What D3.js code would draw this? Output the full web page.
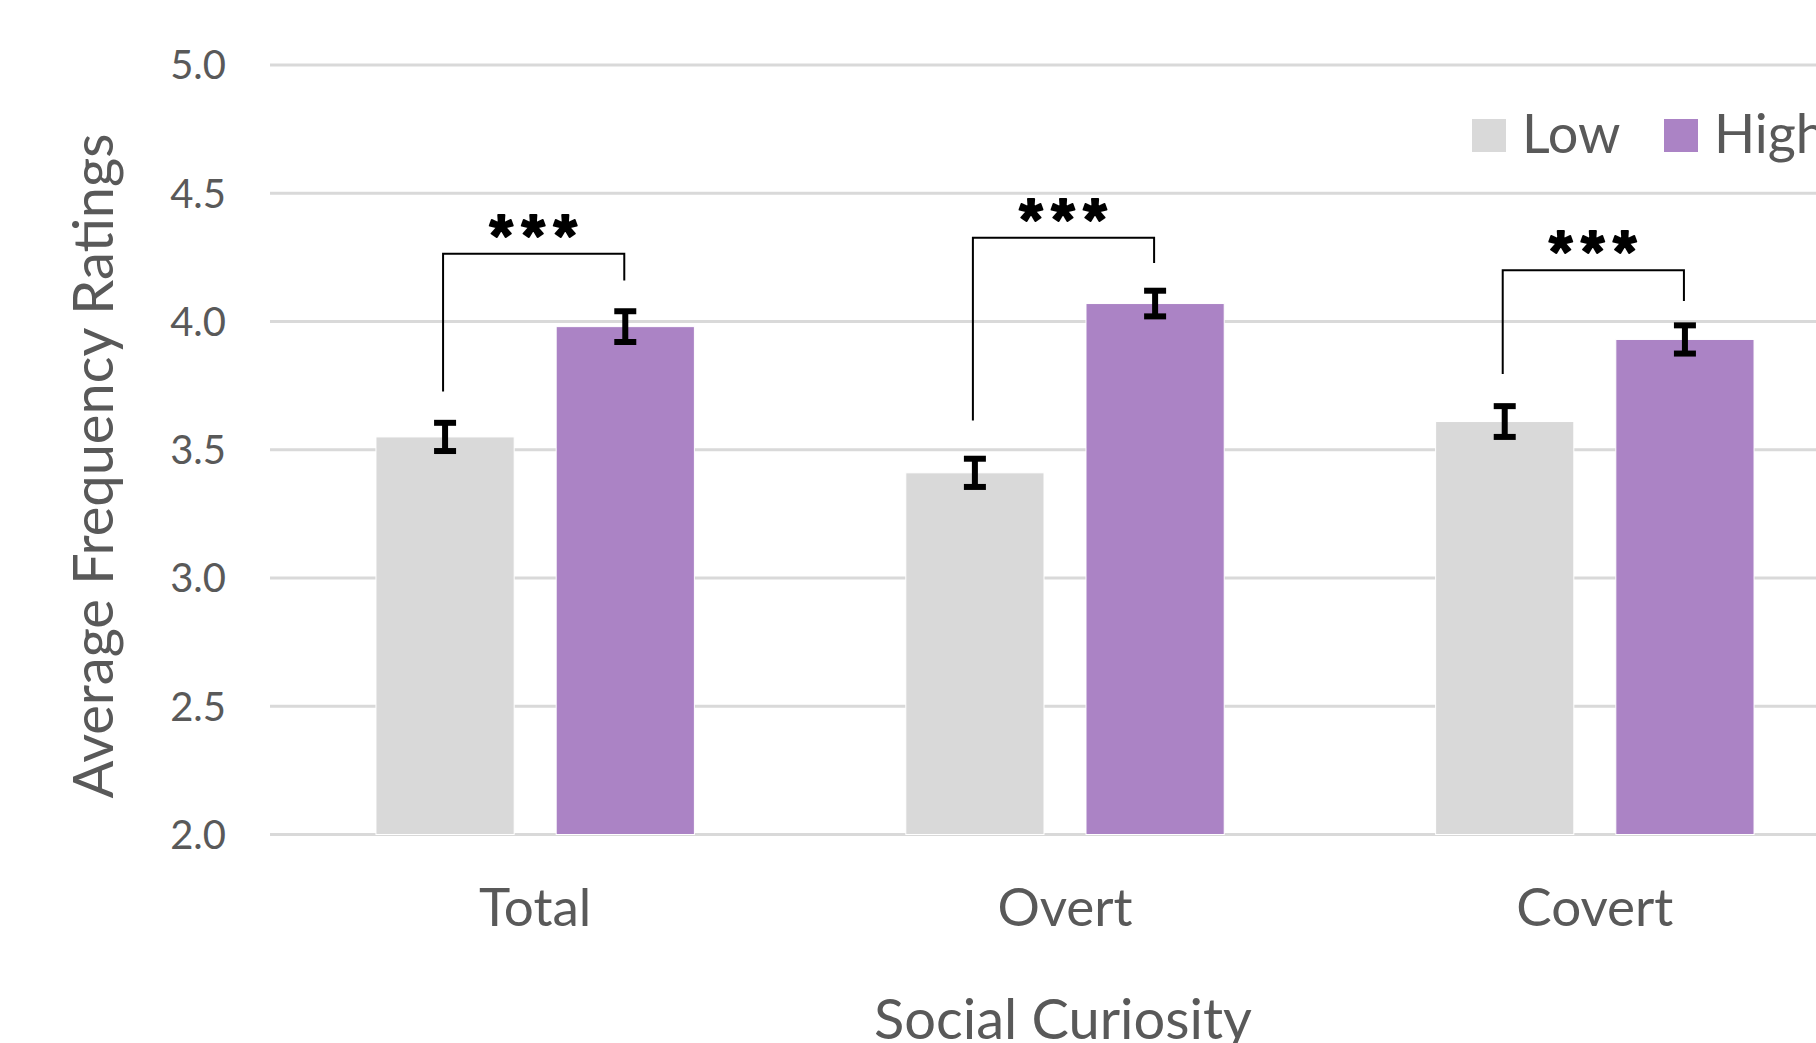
<!DOCTYPE html>
<html>
<head>
<meta charset="utf-8">
<script src="https://cdn.jsdelivr.net/npm/d3@7"></script>
<style>
  html, body { margin: 0; padding: 0; background: #ffffff; }
  svg { display: block; }
  text { font-family: Lato, "Open Sans", sans-serif; fill: #595959; }
</style>
</head>
<body>
<svg id="chart" width="1816" height="1043"></svg>
<script>
// Social curiosity groups and the two rating levels
const categories = ["Total", "Overt", "Covert"];
const seriesNames = ["Low", "High"];

// Mean frequency ratings per group
const lowValues  = [3.55, 3.41, 3.61];
const highValues = [3.98, 4.07, 3.93];

// Standard errors
const lowErrors  = [0.055, 0.055, 0.06];
const highErrors = [0.06, 0.05, 0.055];

// Y axis ticks
const yTicks = [2.0, 2.5, 3.0, 3.5, 4.0, 4.5, 5.0];

// Significance brackets (in rating units): bar top of bracket, and where each leg ends
const bracketTop     = [4.264, 4.327, 4.200];
const bracketLowEnd  = [3.727, 3.614, 3.795];
const bracketHighEnd = [4.160, 4.228, 4.080];
const bracketLabel   = ["***", "***", "***"];

const colors = { Low: "#d9d9d9", High: "#ab83c5" };

const svg = d3.select("#chart");

const plotLeft = 270;
const step = 530;

const y = d3.scaleLinear().domain([2, 5]).range([834.5, 65]);

const x0 = d3.scaleBand()
  .domain(categories)
  .range([plotLeft, plotLeft + step * categories.length])
  .paddingInner(0.399)
  .paddingOuter(0.2);

const x1 = d3.scaleBand()
  .domain(seriesNames)
  .range([0, x0.bandwidth()])
  .paddingInner(0.233);

const rows = categories.map((c, i) => ({
  cat: c,
  Low: lowValues[i], High: highValues[i],
  LowErr: lowErrors[i], HighErr: highErrors[i],
  top: bracketTop[i], lowEnd: bracketLowEnd[i], highEnd: bracketHighEnd[i],
  label: bracketLabel[i]
}));

// Gridlines
svg.append("g")
  .selectAll("line")
  .data(yTicks)
  .join("line")
  .attr("x1", plotLeft)
  .attr("x2", 1816)
  .attr("y1", d => y(d))
  .attr("y2", d => y(d))
  .attr("stroke", "#d9d9d9")
  .attr("stroke-width", 3);

// Y tick labels
svg.append("g")
  .selectAll("text")
  .data(yTicks)
  .join("text")
  .attr("x", 226)
  .attr("y", d => y(d))
  .attr("dy", "0.36em")
  .attr("text-anchor", "end")
  .style("font-size", "40px")
  .text(d => d.toFixed(1));

// Bars
const groups = svg.append("g")
  .selectAll("g")
  .data(rows)
  .join("g")
  .attr("transform", d => `translate(${x0(d.cat)},0)`);

groups.selectAll("rect")
  .data(d => seriesNames.map(s => ({ s, v: d[s] })))
  .join("rect")
  .attr("x", d => x1(d.s))
  .attr("width", x1.bandwidth())
  .attr("y", d => y(d.v))
  .attr("height", d => y(2) - y(d.v))
  .attr("fill", d => colors[d.s])
  .attr("stroke", "#ffffff")
  .attr("stroke-width", 1);

// Error bars
const capHalf = 11;
const eb = groups.selectAll("g.err")
  .data(d => seriesNames.map(s => ({ s, v: d[s], e: d[s + "Err"] })))
  .join("g")
  .attr("class", "err")
  .attr("transform", d => `translate(${x1(d.s) + x1.bandwidth() / 2},0)`);

eb.append("line")
  .attr("y1", d => y(d.v + d.e))
  .attr("y2", d => y(d.v - d.e))
  .attr("stroke", "#000")
  .attr("stroke-width", 6);
eb.append("line")
  .attr("x1", -capHalf).attr("x2", capHalf)
  .attr("y1", d => y(d.v + d.e)).attr("y2", d => y(d.v + d.e))
  .attr("stroke", "#000").attr("stroke-width", 6);
eb.append("line")
  .attr("x1", -capHalf).attr("x2", capHalf)
  .attr("y1", d => y(d.v - d.e)).attr("y2", d => y(d.v - d.e))
  .attr("stroke", "#000").attr("stroke-width", 6);

// Significance brackets
const cx = s => x1(s) + x1.bandwidth() / 2;
groups.append("path")
  .attr("d", d => d3.line()([
    [cx("Low") - 2, y(d.lowEnd)],
    [cx("Low") - 2, y(d.top)],
    [cx("High") - 1, y(d.top)],
    [cx("High") - 1, y(d.highEnd)]
  ]))
  .attr("fill", "none")
  .attr("stroke", "#000")
  .attr("stroke-width", 2);

groups.append("text")
  .attr("x", (cx("Low") + cx("High")) / 2 - 4)
  .attr("y", d => y(d.top) + 4)
  .attr("text-anchor", "middle")
  .style("font-family", "'Liberation Mono', 'DejaVu Sans Mono', monospace")
  .style("font-weight", "bold")
  .style("font-size", "60px")
  .style("letter-spacing", "-4px")
  .style("fill", "#000")
  .style("stroke", "#000")
  .style("stroke-width", "1.8px")
  .style("stroke-linejoin", "round")
  .text(d => d.label);

// Category labels
svg.append("g")
  .selectAll("text")
  .data(categories)
  .join("text")
  .attr("x", d => x0(d) + x0.bandwidth() / 2)
  .attr("y", 926)
  .attr("text-anchor", "middle")
  .style("font-size", "53px")
  .text(d => d);

// Axis titles
svg.append("text")
  .attr("transform", "translate(113,466) rotate(-90)")
  .attr("text-anchor", "middle")
  .style("font-size", "56px")
  .text("Average Frequency Ratings");

svg.append("text")
  .attr("x", 1063)
  .attr("y", 1039)
  .attr("text-anchor", "middle")
  .style("font-size", "56px")
  .text("Social Curiosity");

// Legend
const legendX = [1472, 1664];
const legend = svg.append("g")
  .selectAll("g")
  .data(seriesNames)
  .join("g")
  .attr("transform", (d, i) => `translate(${legendX[i]},0)`);
legend.append("rect")
  .attr("x", 0).attr("y", 119)
  .attr("width", 34).attr("height", 33)
  .attr("fill", d => colors[d]);
legend.append("text")
  .attr("x", 50)
  .attr("y", 153)
  .style("font-size", "54px")
  .text(d => d);
</script>
</body>
</html>
